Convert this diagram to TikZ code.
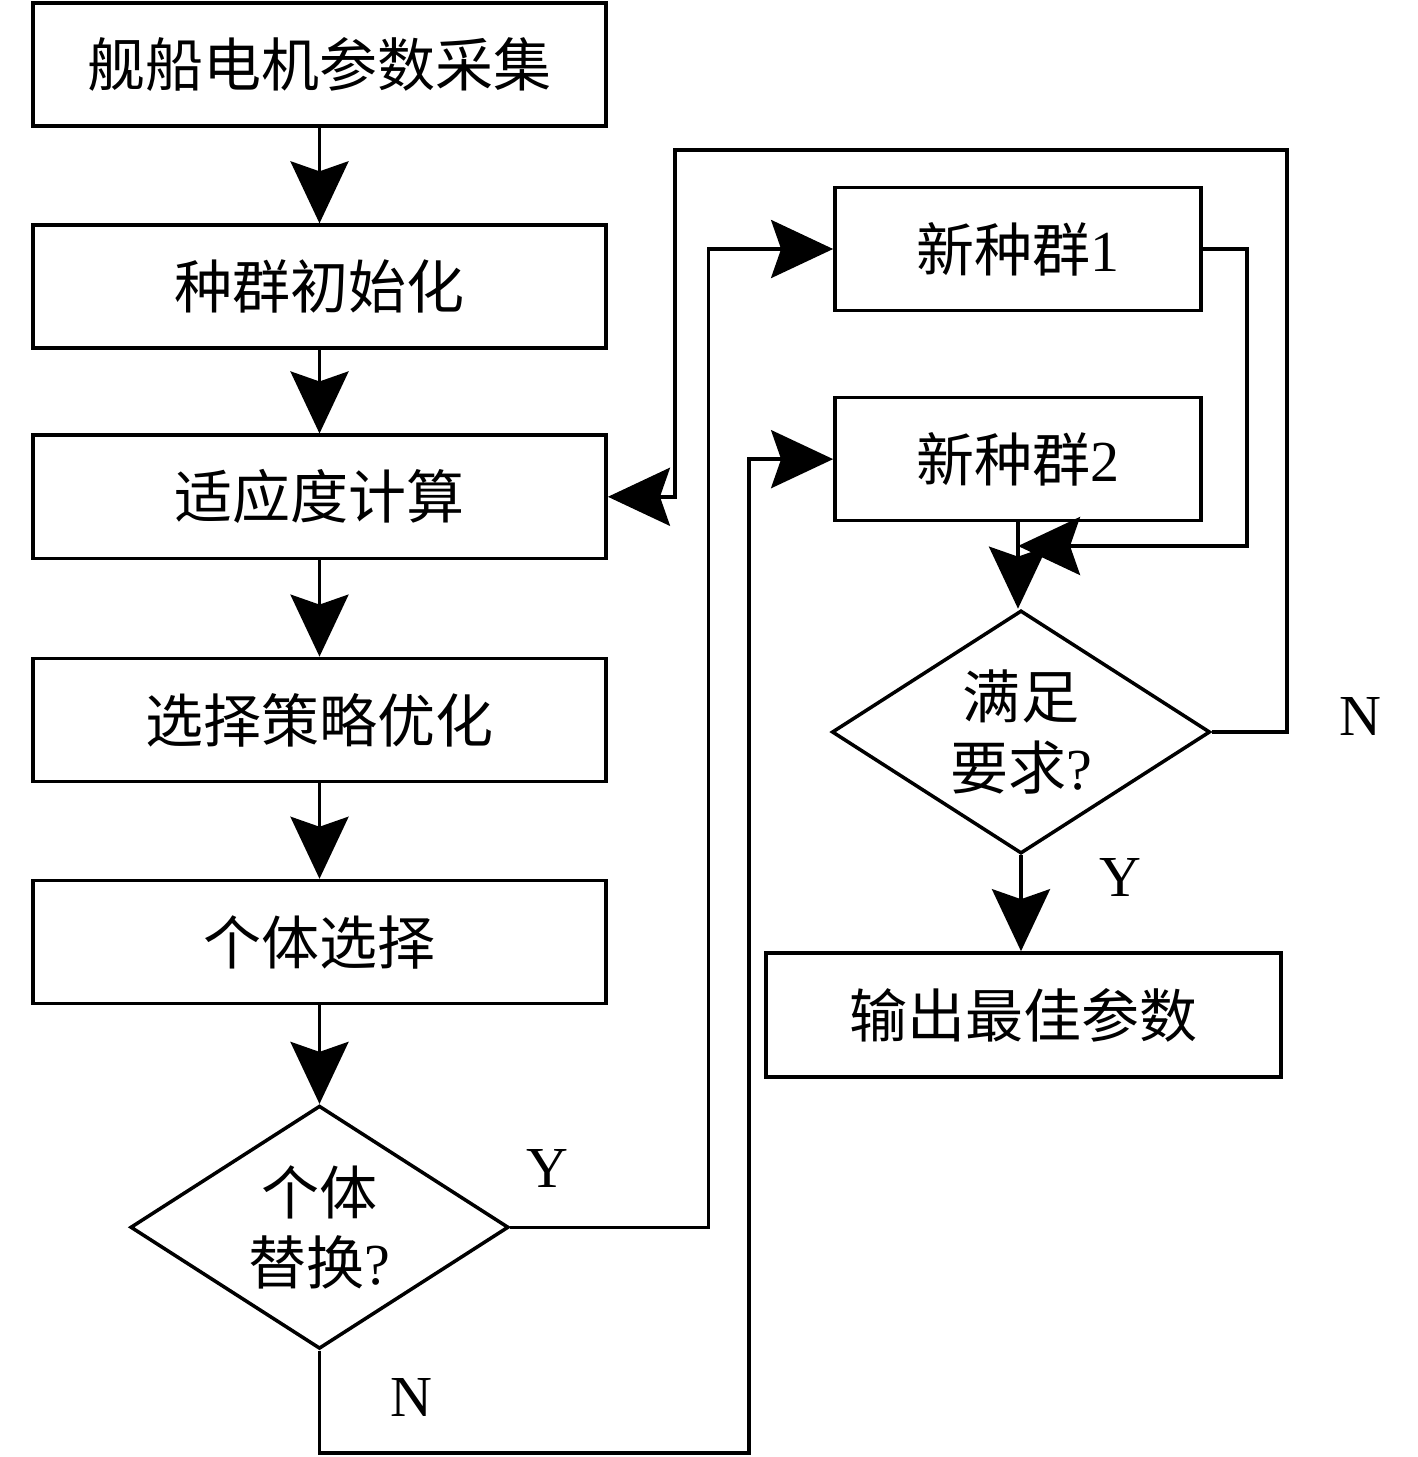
\documentclass[tikz,border=0pt]{standalone}
\usepackage{fontspec}
\setmainfont{Liberation Serif}
\newfontfamily\cjk{Noto Sans CJK SC}
\usetikzlibrary{arrows.meta, positioning, shapes.geometric}
\tikzset{
  >={Stealth[length=6.2mm,width=5.8mm,inset=1mm]},
  base/.style = {rectangle, draw=black, line width=1pt,
                 minimum height=1.23cm, text centered,
                 font=\cjk\fontsize{16.5pt}{19.5pt}\selectfont},
  process/.style = {base, minimum width=5.73cm},
  newpop/.style = {base, minimum width=3.66cm},
  decision/.style = {diamond, draw, line width=1pt, align=center, inner sep=0pt,
                     aspect=1.55, minimum width=3.78cm, minimum height=2.43cm,
                     font=\cjk\fontsize{16.5pt}{20pt}\selectfont},
  yn/.style = {font=\fontsize{16.5pt}{19.5pt}\selectfont},
}
\begin{document}
\begin{tikzpicture}[x=0.01cm, y=-0.01cm, line width=1pt]
  \useasboundingbox (0,0) rectangle (1417,1457);

  % 左列主流程
  \node (p1) [process] at (319.5,64.5) {舰船电机参数采集};
  \node (p2) [process, below=0.955cm of p1] {种群初始化};
  \node (p3) [process, below=0.835cm of p2] {适应度计算};
  \node (p4) [process, below=0.965cm of p3] {选择策略优化};
  \node (p5) [process, below=0.955cm of p4] {个体选择};
  \node (d1) [decision, below=0.985cm of p5] {个体\\替换{\rmfamily ?}};

  % 右列
  \node (n1) [newpop] at (1018,249) {新种群{\rmfamily 1}};
  \node (n2) [newpop, below=0.835cm of n1] {新种群{\rmfamily 2}};
  \node (d2) [decision] at (1021,732) {满足\\要求{\rmfamily ?}};
  \node (out) [base, minimum width=5.15cm, minimum height=1.24cm] at (1023.5,1015) {输出最佳参数};

  \coordinate (c1) at (749,1453);
  \coordinate (c2) at (1287,150);
  \coordinate (c3) at (675,150);
  \coordinate (c4) at (1247,546);

  \draw[->] (p1) -- (p2);
  \draw[->] (p2) -- (p3);
  \draw[->] (p3) -- (p4);
  \draw[->] (p4) -- (p5);
  \draw[->] (p5) -- (d1);
  \draw[->] (d1.east) -- ++(198,0) |- (n1.west);
  \draw[->] (d1.south) |- (c1) |- (n2.west);
  \draw[->] (d2.east) -| (c2) -- (c3) |- (p3.east);
  \draw[->] (n1.east) -| (c4) -- (n2.south |- c4);
  \draw[->] (n2.south) -- (n2.south |- d2.north);
  \draw[->] (d2.south) -- (d2.south |- out.north);

  % 判断标记
  \node (y1) [yn] at (547,1168) {Y};
  \node (no1) [yn] at (411,1397) {N};
  \node (no2) [yn] at (1360,716) {N};
  \node (y2) [yn] at (1120,877) {Y};
\end{tikzpicture}
\end{document}
